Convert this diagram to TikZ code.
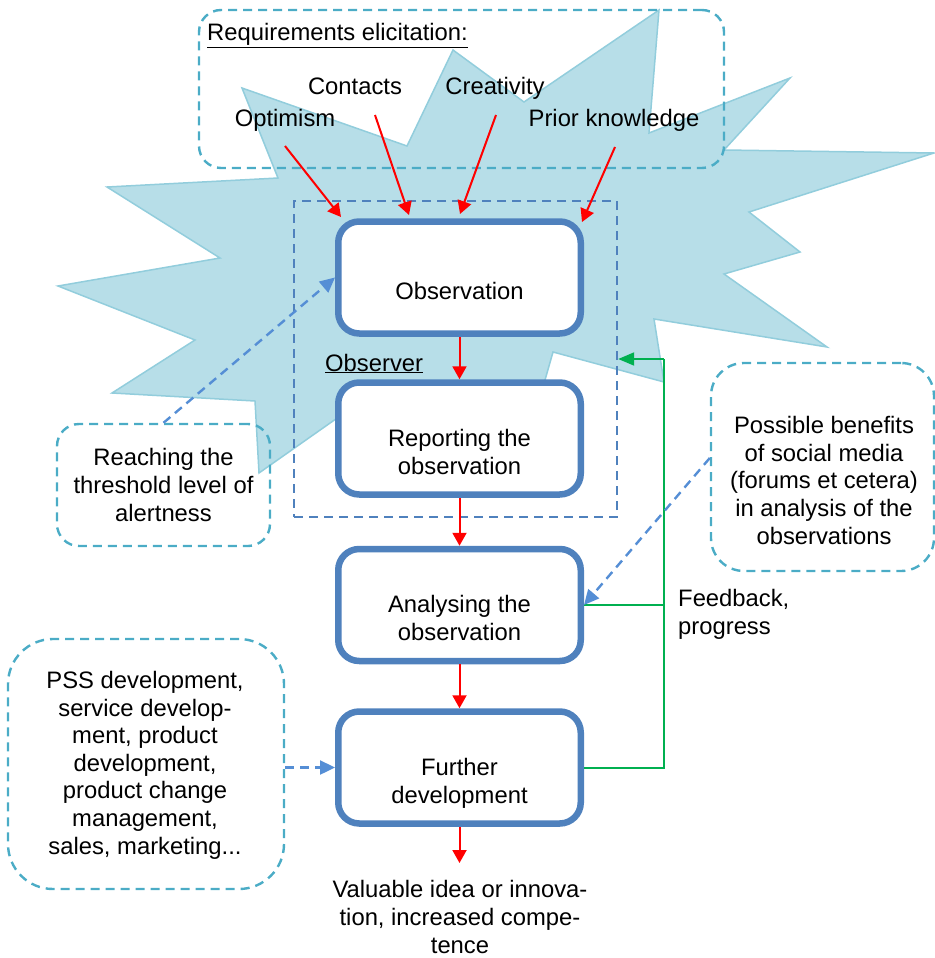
\documentclass[tikz,border=0pt]{standalone}
\usepackage{fontspec}
\setmainfont{Liberation Sans}
\usetikzlibrary{arrows.meta}
\definecolor{burst}{HTML}{B7DEE8}
\definecolor{burstedge}{HTML}{92CDDC}
\definecolor{stepblue}{HTML}{4F81BD}
\definecolor{noteteal}{HTML}{4BACC6}
\definecolor{hintblue}{HTML}{558ED5}
\definecolor{fbgreen}{HTML}{00B050}

\begin{document}
\begin{tikzpicture}[x=1pt,y=-1pt,
  every node/.style={font=\fontsize{23.8pt}{27.6pt}\selectfont, inner sep=0pt},
  stepbox/.style={draw=stepblue, line width=6.5pt, fill=white, rounded corners=21pt,
    minimum width=242.5pt, minimum height=112pt},
  notebox/.style={draw=noteteal, line width=2.4pt, dash pattern=on 9pt off 6pt},
  txt/.style={align=center, anchor=base},
  flow/.style={draw=red, line width=2pt, -{Triangle[length=13pt,width=14pt]}},
  hint/.style={draw=hintblue, line width=2.4pt, dash pattern=on 9pt off 6pt,
    -{Triangle[length=15pt,width=14pt]}},
  feedback/.style={draw=fbgreen, line width=2pt},
]
\useasboundingbox (0,0) rectangle (934,958);

% explosion shape behind the observation stage
\filldraw[fill=burst, draw=burstedge, line width=1.5pt, line join=miter]
  (58,286) -- (220,258) -- (107,187) -- (278,178) -- (242,88) -- (407,146)
  -- (453,50) -- (524,102) -- (659,10) -- (649,133) -- (790,78) -- (724,150)
  -- (934,153) -- (749,212) -- (800,252) -- (724,274) -- (827,347) -- (654,319)
  -- (664,382) -- (553,352) -- (515,485) -- (360,402) -- (259,473) -- (255,401)
  -- (112,393) -- (195,340) -- cycle;

% dashed note frames
\node[notebox, rounded corners=22pt, minimum width=525pt, minimum height=158pt] (req) at (461.5,89) {};
\node[notebox, rounded corners=22pt, minimum width=213pt, minimum height=122pt] (reach) at (163.5,485) {};
\node[notebox, rounded corners=33pt, minimum width=223pt, minimum height=208pt] (ben) at (822.5,467) {};
\node[notebox, rounded corners=45pt, minimum width=276pt, minimum height=250pt] (pss) at (146,764) {};

% observer frame
\node[draw=stepblue, line width=2.4pt, dash pattern=on 9pt off 6pt,
  minimum width=323pt, minimum height=316pt] (obsr) at (455.5,359) {};

% process steps
\node[stepbox] (obs) at (459.5,277.5) {};
\node[stepbox] (rep) at (459.5,438.5) {};
\node[stepbox] (ana) at (459.5,605) {};
\node[stepbox] (fur) at (459.5,767.5) {};

% step labels (anchored on the baseline of their last line)
\node[txt] (obs-t) at (459.5,299) {Observation};
\node[txt] (rep-t) at (459.5,474.5) {Reporting the\\observation};
\node[txt] (ana-t) at (459.5,640.5) {Analysing the\\observation};
\node[txt] (fur-t) at (459.5,803.5) {Further\\development};

% note texts
\node[anchor=base west] (req-t) at (207,41) {\underline{Requirements elicitation:}};
\node[txt] (con) at (355,94) {Contacts};
\node[txt] (cre) at (495,94) {Creativity};
\node[txt] (opt) at (285,126) {Optimism};
\node[txt] (pri) at (614,126) {Prior knowledge};
\node[anchor=base west] (obsr-t) at (325,371) {\underline{Observer}};
\node[txt] (reach-t) at (163.5,521) {Reaching the\\threshold level of\\alertness};
\node[txt] (ben-t) at (824,544) {Possible benefits\\of social media\\(forums et cetera)\\in analysis of the\\observations};
\node[txt] (pss-t) at (145,854) {PSS development,\\service develop-\\ment, product\\development,\\product change\\management,\\sales, marketing...};
\node[align=left, anchor=base west] (fb-t) at (678,634) {Feedback,\\progress};
\node[txt] (out) at (460,953) {Valuable idea or innova-\\tion, increased compe-\\tence};

% inputs to the observation
\coordinate (opt-a) at (285,146);  \coordinate (opt-b) at (341,217);
\coordinate (con-a) at (375,115);  \coordinate (con-b) at (409,215);
\coordinate (cre-a) at (496,115);  \coordinate (cre-b) at (460,214);
\coordinate (pri-a) at (615,147);  \coordinate (pri-b) at (582,222);
\draw[flow] (opt-a) -- (opt-b);
\draw[flow] (con-a) -- (con-b);
\draw[flow] (cre-a) -- (cre-b);
\draw[flow] (pri-a) -- (pri-b);

% main flow
\coordinate (out-tip) at (459.5,863);
\draw[flow] (obs.south) -- (rep.north);
\draw[flow] (rep.south) -- (ana.north);
\draw[flow] (ana.south) -- (fur.north);
\draw[flow] (fur.south) -- (out-tip);

% feedback loop
\coordinate (fb-top) at (664,359);
\draw[feedback] (fur.east) -| (fb-top);
\draw[feedback] (ana.east) -- (ana.east -| fb-top);
\draw[feedback, -{Triangle[length=16pt,width=13pt]}] (fb-top) -- (obsr.east);

% influences from the notes
\draw[hint] (reach.north) -- (obs.west);
\draw[hint] ([yshift=9pt]ben.west) -- (ana.east);
\draw[hint] (pss.east |- fur.west) -- (fur.west);
\end{tikzpicture}
\end{document}
